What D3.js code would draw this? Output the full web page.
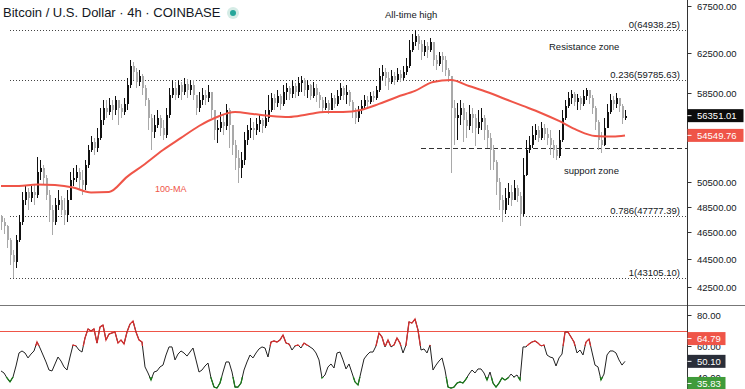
<!DOCTYPE html>
<html>
<head>
<meta charset="utf-8">
<script src="https://cdnjs.cloudflare.com/ajax/libs/d3/7.8.5/d3.min.js"></script>
<style>
  html, body { margin: 0; padding: 0; background: #fff; }
  svg { display: block; font-family: "Liberation Sans", Arial, sans-serif; }
</style>
</head>
<body>
<svg id="chart" width="745" height="389"></svg>
<script>
// ---- data (BTC/USD 4h, Coinbase) ----
var firstOpen = 47800;

var closes = [
  47300,46990,45920,44800,44290,45920,47300,49050,49700,49210,
  49700,49460,51360,51700,50860,49460,48240,47300,48640,49050,
  48240,47850,49050,50690,50860,51360,50690,50270,51960,53250,
  53960,53430,54320,55950,57070,56690,57350,56880,57820,57070,
  56690,57450,59270,61150,60550,59560,60160,58980,57820,56140,
  54850,55490,56140,55210,54590,56420,58310,58980,58310,59270,
  58590,59370,58780,59270,58310,57070,57820,58310,58010,58590,
  56880,55030,55210,55770,55400,56880,55490,53700,52550,51700,
  52380,54140,55030,55210,55030,55580,55950,55400,56140,56880,
  58010,57540,58210,57450,58590,58980,58400,59170,58590,59470,
  59760,58780,59270,58210,58980,58310,57820,57070,57540,56880,
  58010,57450,58210,58980,58310,58590,57630,56690,56140,56880,
  57260,57820,57630,58210,58010,58780,60160,60550,59960,59560,
  60160,59760,60360,59960,60550,61150,62780,63610,64250,63400,
  62580,63200,62780,63610,61760,61350,62170,61760,60750,60160,
  57070,56140,56420,57070,55950,55400,56510,56140,55210,55770,
  56140,55030,54320,53250,52210,50520,49050,48240,49210,49700,
  49050,50030,49380,47930,51110,53250,53700,54590,55030,54320,
  55210,54670,54320,53700,53250,52730,54140,56140,57260,58010,
  58400,57630,58010,57450,58210,58780,58010,57070,55770,54140,
  53700,55210,56690,57820,57450,58010,57260,56140,56351.01
];

var highs = [
  47850,47620,47070,46070,45170,46300,47850,49700,50270,50030,
  50190,50270,52640,52380,51960,51110,49860,48640,49210,49860,
  49380,49210,49860,51360,51700,51960,51700,51530,52380,53700,
  54500,54320,55210,57070,57820,57820,58010,57820,58210,57820,
  57450,58010,59960,61760,61560,60950,60750,60360,59270,58010,
  56510,56420,56880,56420,55950,57070,58980,59760,59560,59760,
  59560,59960,59860,59760,59760,58310,58590,58980,58780,59270,
  58500,56880,55950,56690,56420,57450,57070,55490,54140,53250,
  53080,54850,55490,56140,55770,56140,56420,56140,56880,58310,
  58500,58400,58780,58400,59270,59470,59170,59760,59470,60060,
  60160,59960,59760,59370,59560,59370,58590,58110,58110,57820,
  58500,58310,58780,59470,59170,59270,58780,57820,57070,57260,
  57820,58310,58210,58590,58690,59170,60950,61250,60950,60550,
  60750,60550,60950,60750,61150,61960,63820,64460,64938.25,64460,
  63820,63820,63610,64030,63610,62270,62580,62580,62170,60950,
  60160,57820,57540,57820,57540,56690,57350,57070,56510,56880,
  57070,56420,55490,54760,53700,52380,50860,49460,50030,50440,
  50270,50690,50270,49700,52550,54140,54500,55400,55580,55400,
  55770,55580,55210,55030,54140,53700,55030,56880,57820,58590,
  58780,58590,58400,58210,58780,58980,58780,58310,57260,55950,
  54850,56140,57450,58400,58210,58500,58010,57450,56880
];

var lows = [
  46680,46380,45320,44070,43105.10,43850,45770,47070,48640,48240,
  48890,48640,49210,50690,50270,49050,47300,46300,47070,48240,
  47850,47070,47300,49050,50190,50520,49860,49460,49860,51700,
  53080,52810,53080,54140,55490,56140,56420,55950,56420,55490,
  56140,56420,56880,58980,59760,58980,59170,58310,57260,55030,
  53250,54320,55210,54500,54140,54320,56140,58010,57820,58010,
  57820,58310,58010,58310,57820,56420,56690,57350,57350,57630,
  56140,54140,53870,54850,54590,55030,53430,52810,51530,50440,
  50860,51960,53700,54320,54140,54590,54850,54760,55210,55770,
  56690,56880,57160,56880,57260,57820,57820,58010,58010,58210,
  58590,58210,58010,57820,58010,57630,57070,56690,56880,56510,
  56880,57070,57260,57820,57820,57450,57260,56140,55580,55770,
  56510,56880,57160,57450,57630,57820,58590,59760,59170,58780,
  59370,59270,59560,59560,59760,60260,60950,62580,63200,62780,
  61760,62170,61960,62580,61150,60750,61150,60550,60160,59560,
  51280,53700,54140,55490,53960,54320,55030,54760,53610,54670,
  55030,54140,53430,51530,51530,49460,48240,47300,47930,48640,
  48560,49210,48890,46990,47770,51030,52990,53430,54140,53960,
  54140,54140,53700,52810,52550,52380,52550,53960,55950,57070,
  57450,57260,56880,56880,57260,57820,57450,56510,55030,53250,
  52990,53610,55210,56510,56880,57070,56690,55580,55950
];

// 100-period moving average, read at every 6th candle (and the last one)
var maIndex = [0,6,12,18,24,30,36,42,48,54,60,66,72,78,84,90,96,102,108,114,
  120,126,132,138,144,150,156,162,168,174,180,186,192,198,204,208];
var maValues = [50190,50190,50320,50270,50070,49660,49700,50950,52040,53250,
  54320,55400,56230,56690,56510,56320,56230,56460,56690,56690,
  56880,57450,58110,58690,59560,59760,59170,58590,57920,57260,
  56600,55860,55030,54500,54450,54549.76];

var rsi = [
  43.9,42.6,39.4,36.8,40.0,47.1,55.5,56.8,55.5,52.3,
  54.8,56.8,62.6,58.7,54.2,49.7,44.5,43.9,48.4,52.9,
  50.3,46.5,44.5,52.9,60.6,60.0,57.4,56.1,65.2,71.0,
  69.7,71.0,61.9,72.3,73.5,63.9,67.7,68.4,69.0,61.9,
  63.9,61.3,69.0,74.2,76.1,69.0,63.9,62.6,46.5,42.6,
  38.1,43.2,43.9,46.5,47.7,54.2,59.4,59.4,51.0,54.8,
  56.8,55.5,53.5,56.1,58.7,51.0,43.2,44.5,47.1,49.0,
  39.4,33.5,32.9,36.1,43.2,49.7,49.7,43.2,33.5,33.5,
  36.1,44.5,49.7,54.2,52.3,55.5,58.1,59.4,58.7,52.9,
  62.6,63.2,62.6,63.9,67.1,61.9,61.3,57.4,60.0,60.6,
  58.7,61.9,60.6,59.4,58.1,55.5,51.0,39.4,41.3,46.5,
  48.4,45.8,55.5,56.1,51.0,45.2,48.4,42.6,36.8,34.8,
  43.2,51.6,54.2,56.1,56.1,60.0,68.4,65.8,59.4,63.9,
  59.4,60.6,65.2,61.9,55.5,60.6,75.5,74.8,77.4,70.3,
  57.4,58.1,55.5,60.6,44.5,47.7,50.3,52.3,44.5,33.5,
  32.9,33.5,36.1,36.8,36.1,38.7,41.9,44.5,42.6,45.2,
  45.2,42.6,38.1,43.2,36.1,33.5,36.1,39.4,38.1,39.4,
  41.9,40.0,41.3,38.1,59.4,59.4,61.3,62.6,63.2,61.9,
  60.0,60.6,54.2,52.9,52.3,47.1,52.3,54.8,69.0,69.0,
  65.8,62.6,55.5,57.4,54.2,62.6,64.5,56.1,47.7,46.5,
  38.1,41.9,54.2,56.8,56.8,55.5,51.0,47.7,50.1
];

var priceTicks = [67500, 62500, 58500, 50500, 48500, 46500, 44500, 42500];
var rsiTicks = [80, 60, 40];
var fibRatios = ['0', '0.236', '0.786', '1'];
var fibValues = [64938.25, 59785.63, 47777.39, 43105.10];
var supportPrice = 53430;
var supportFrom = 140;           // candle index where the support line starts
var lastPrice = 56351.01;
var lastMA = 54549.76;
var rsiUpper = 64.79, rsiValue = 50.10, rsiLower = 35.83;
var rsiHigh = 70, rsiHot = 60, rsiCold = 40;

// ---- layout ----
var axisX = 687.5;
var RED = '#ef5548', GREEN = '#3f9b3a', INK = '#131722';
var svg = d3.select('#chart');
var fmt = d3.format('.2f');

var x = d3.scaleLinear().domain([0, closes.length - 1]).range([1, 625]);
var y = d3.scaleLog().domain([42500, 67500]).range([287, 6]);
var yr = d3.scaleLinear().domain([40, 80]).range([377, 315]);

var defs = svg.append('defs');
defs.append('clipPath').attr('id', 'mainClip')
  .append('rect').attr('x', 0).attr('y', 0).attr('width', axisX).attr('height', 304);
defs.append('clipPath').attr('id', 'hotClip')
  .append('rect').attr('x', 0).attr('y', 306).attr('width', axisX).attr('height', yr(rsiHot) - 306);
defs.append('clipPath').attr('id', 'coldClip')
  .append('rect').attr('x', 0).attr('y', yr(rsiCold)).attr('width', axisX).attr('height', 389 - yr(rsiCold));

// title
svg.append('text')
  .attr('x', 3).attr('y', 17)
  .attr('font-size', 13).attr('fill', INK)
  .text('Bitcoin / U.S. Dollar \u00b7 4h \u00b7 COINBASE');
svg.append('circle').attr('cx', 233).attr('cy', 13).attr('r', 6).attr('fill', '#d5ece6');
svg.append('circle').attr('cx', 233).attr('cy', 13).attr('r', 3).attr('fill', '#26a69a');

// fibonacci levels
var fib = svg.append('g').attr('class', 'fib');
fibValues.forEach(function (v, k) {
  var yy = Math.round(y(v)) + 0.5;
  fib.append('line')
    .attr('x1', 10).attr('x2', axisX).attr('y1', yy).attr('y2', yy)
    .attr('stroke', '#444').attr('stroke-dasharray', '1,2');
  fib.append('text')
    .attr('x', 680).attr('y', yy - 2.5)
    .attr('text-anchor', 'end').attr('font-size', 9.5).attr('fill', INK)
    .text(fibRatios[k] + '(' + fmt(v) + ')');
});

// support line
var sy = Math.round(y(supportPrice)) + 0.5;
svg.append('line')
  .attr('x1', x(supportFrom)).attr('x2', axisX).attr('y1', sy).attr('y2', sy)
  .attr('stroke', '#333').attr('stroke-dasharray', '5,3');

// candles
var candles = closes.map(function (c, i) {
  var o = i === 0 ? firstOpen : closes[i - 1];
  return { i: i, o: o, c: c, h: Math.max(highs[i], o, c), l: Math.min(lows[i], o, c) };
});
var cg = svg.append('g').attr('clip-path', 'url(#mainClip)').attr('shape-rendering', 'crispEdges');
var cEnter = cg.selectAll('g.candle').data(candles).enter().append('g').attr('class', 'candle');
cEnter.append('rect')
  .attr('x', function (d) { return Math.round(x(d.i)); })
  .attr('width', 1)
  .attr('y', function (d) { return y(d.h); })
  .attr('height', function (d) { return Math.max(1, y(d.l) - y(d.h)); })
  .attr('fill', function (d) { return d.c >= d.o ? '#111' : '#a9a9a9'; });
cEnter.append('rect')
  .attr('x', function (d) { return Math.round(x(d.i)) - 0.5; })
  .attr('width', 2)
  .attr('y', function (d) { return y(Math.max(d.o, d.c)); })
  .attr('height', function (d) { return Math.max(1, Math.abs(y(d.o) - y(d.c))); })
  .attr('fill', function (d) { return d.c >= d.o ? '#111' : '#a9a9a9'; });

// 100-MA
var maLine = d3.line()
  .x(function (d, k) { return x(maIndex[k]); })
  .y(function (d) { return y(d); })
  .curve(d3.curveMonotoneX);
svg.append('path')
  .datum(maValues)
  .attr('d', maLine)
  .attr('fill', 'none').attr('stroke', RED).attr('stroke-width', 2);

// annotations
svg.append('text').attr('x', 385).attr('y', 18).attr('font-size', 9.5).attr('fill', INK).text('All-time high');
svg.append('text').attr('x', 549).attr('y', 50).attr('font-size', 9.5).attr('fill', INK).text('Resistance zone');
svg.append('text').attr('x', 564).attr('y', 174).attr('font-size', 9.5).attr('fill', INK).text('support zone');
svg.append('text').attr('x', 155).attr('y', 192).attr('font-size', 9).attr('fill', RED).text('100-MA');

// RSI panel
svg.append('line').attr('x1', 0).attr('x2', 745).attr('y1', 305.5).attr('y2', 305.5).attr('stroke', '#777');
var hy = Math.round(yr(rsiHigh)) + 0.5;
svg.append('line').attr('x1', 0).attr('x2', axisX).attr('y1', hy).attr('y2', hy).attr('stroke', RED);

var rsiLine = d3.line()
  .x(function (d, i) { return x(i); })
  .y(function (d) { return yr(d); });
svg.append('path').datum(rsi).attr('d', rsiLine)
  .attr('fill', 'none').attr('stroke', '#222').attr('stroke-width', 1);
svg.append('path').datum(rsi).attr('d', rsiLine).attr('clip-path', 'url(#hotClip)')
  .attr('fill', 'none').attr('stroke', '#d32f2f').attr('stroke-width', 1.3);
svg.append('path').datum(rsi).attr('d', rsiLine).attr('clip-path', 'url(#coldClip)')
  .attr('fill', 'none').attr('stroke', '#1b7a1b').attr('stroke-width', 1.3);

// right axis
svg.append('line').attr('x1', axisX).attr('x2', axisX).attr('y1', 0).attr('y2', 389).attr('stroke', '#333');
var ax = svg.append('g').attr('font-size', 9.5).attr('fill', INK);
function tick(yy, label) {
  ax.append('line').attr('x1', axisX).attr('x2', axisX + 4).attr('y1', yy).attr('y2', yy).attr('stroke', '#333');
  ax.append('text').attr('x', 697).attr('y', yy).attr('dy', '0.35em').text(label);
}
priceTicks.forEach(function (v) { tick(Math.round(y(v)) + 0.5, fmt(v)); });
rsiTicks.forEach(function (v) { tick(Math.round(yr(v)) + 0.5, fmt(v)); });

function badge(yy, w, fill, label) {
  ax.append('rect').attr('x', axisX).attr('y', yy - 6.5).attr('width', w).attr('height', 13).attr('fill', fill);
  ax.append('line').attr('x1', axisX).attr('x2', axisX + 4).attr('y1', yy).attr('y2', yy).attr('stroke', '#fff');
  ax.append('text').attr('x', 697).attr('y', yy).attr('dy', '0.35em').attr('fill', '#fff').text(label);
}
badge(y(lastPrice), 56, '#0c0c0c', fmt(lastPrice));
badge(y(lastMA), 56, RED, fmt(lastMA));
badge(yr(rsiUpper), 38, RED, fmt(rsiUpper));
badge(yr(rsiValue), 38, '#2a2e39', fmt(rsiValue));
badge(yr(rsiLower), 38, GREEN, fmt(rsiLower));
</script>
</body>
</html>
